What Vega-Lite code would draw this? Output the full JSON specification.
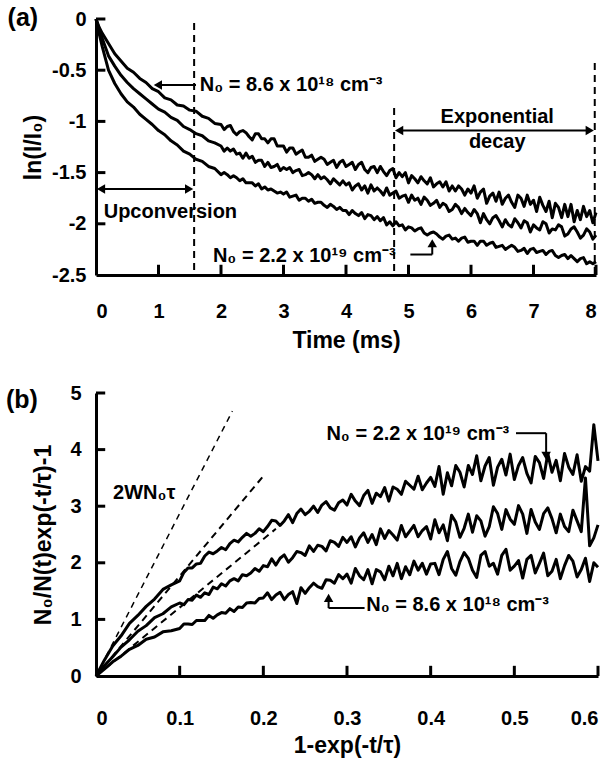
{
"$schema": "https://vega.github.io/schema/vega-lite/v6.json",
"background": "white",
"padding": {"left": 5, "top": 5, "right": 5, "bottom": 5},
"bounds": "flush",
"spacing": 118,
"config": {
  "view": {"stroke": null},
  "axis": {"grid": false, "domainColor": "black", "domainWidth": 3, "ticks": false,
    "labelFont": "Liberation Sans", "labelFontWeight": "bold", "labelFontSize": 20, "labelColor": "black",
    "titleFont": "Liberation Sans", "titleFontWeight": "bold", "titleFontSize": 23, "titleColor": "black"},
  "text": {"font": "Liberation Sans", "fontWeight": "bold", "fontSize": 20, "color": "black"}
},
"datasets": {
"ca": [
{"x":0,"t":0,"m":0,"b":0},
{"x":0.05,"t":-0.08,"m":-0.1,"b":-0.14},
{"x":0.1,"t":-0.14,"m":-0.19,"b":-0.27},
{"x":0.2,"t":-0.24,"m":-0.36,"b":-0.5},
{"x":0.3,"t":-0.34,"m":-0.46,"b":-0.63},
{"x":0.4,"t":-0.41,"m":-0.55,"b":-0.73},
{"x":0.5,"t":-0.48,"m":-0.62,"b":-0.81},
{"x":0.6,"t":-0.52,"m":-0.68,"b":-0.86},
{"x":0.7,"t":-0.58,"m":-0.73,"b":-0.93},
{"x":0.8,"t":-0.62,"m":-0.78,"b":-0.98},
{"x":0.9,"t":-0.68,"m":-0.83,"b":-1.03},
{"x":1.0,"t":-0.71,"m":-0.88,"b":-1.09},
{"x":1.1,"t":-0.77,"m":-0.91,"b":-1.13},
{"x":1.2,"t":-0.79,"m":-0.96,"b":-1.19},
{"x":1.3,"t":-0.84,"m":-0.99,"b":-1.23},
{"x":1.4,"t":-0.85,"m":-1.05,"b":-1.29},
{"x":1.5,"t":-0.89,"m":-1.08,"b":-1.32},
{"x":1.6,"t":-0.9,"m":-1.12,"b":-1.37},
{"x":1.7,"t":-0.95,"m":-1.14,"b":-1.39},
{"x":1.8,"t":-0.97,"m":-1.19,"b":-1.44},
{"x":1.9,"t":-1.02,"m":-1.21,"b":-1.46},
{"x":2.0,"t":-1.03,"m":-1.24,"b":-1.52},
{"x":2.05,"t":-1.08,"m":-1.29,"b":-1.5},
{"x":2.1,"t":-1.05,"m":-1.26,"b":-1.52},
{"x":2.15,"t":-1.04,"m":-1.29,"b":-1.55},
{"x":2.2,"t":-1.1,"m":-1.27,"b":-1.53},
{"x":2.25,"t":-1.13,"m":-1.32,"b":-1.55},
{"x":2.3,"t":-1.1,"m":-1.31,"b":-1.58},
{"x":2.35,"t":-1.09,"m":-1.36,"b":-1.56},
{"x":2.4,"t":-1.11,"m":-1.31,"b":-1.6},
{"x":2.45,"t":-1.15,"m":-1.36,"b":-1.6},
{"x":2.5,"t":-1.18,"m":-1.34,"b":-1.6},
{"x":2.55,"t":-1.12,"m":-1.4,"b":-1.63},
{"x":2.6,"t":-1.12,"m":-1.38,"b":-1.61},
{"x":2.65,"t":-1.17,"m":-1.38,"b":-1.66},
{"x":2.7,"t":-1.17,"m":-1.44,"b":-1.64},
{"x":2.75,"t":-1.21,"m":-1.4,"b":-1.67},
{"x":2.8,"t":-1.17,"m":-1.45,"b":-1.66},
{"x":2.85,"t":-1.17,"m":-1.44,"b":-1.68},
{"x":2.9,"t":-1.24,"m":-1.42,"b":-1.7},
{"x":2.95,"t":-1.24,"m":-1.48,"b":-1.69},
{"x":3.0,"t":-1.24,"m":-1.45,"b":-1.71},
{"x":3.05,"t":-1.3,"m":-1.47,"b":-1.69},
{"x":3.1,"t":-1.26,"m":-1.45,"b":-1.74},
{"x":3.15,"t":-1.26,"m":-1.5,"b":-1.73},
{"x":3.2,"t":-1.32,"m":-1.48,"b":-1.72},
{"x":3.25,"t":-1.3,"m":-1.47,"b":-1.77},
{"x":3.3,"t":-1.28,"m":-1.53,"b":-1.75},
{"x":3.35,"t":-1.35,"m":-1.52,"b":-1.75},
{"x":3.4,"t":-1.35,"m":-1.5,"b":-1.78},
{"x":3.45,"t":-1.33,"m":-1.52,"b":-1.76},
{"x":3.5,"t":-1.39,"m":-1.56,"b":-1.8},
{"x":3.55,"t":-1.37,"m":-1.52,"b":-1.79},
{"x":3.6,"t":-1.35,"m":-1.56,"b":-1.79},
{"x":3.65,"t":-1.37,"m":-1.54,"b":-1.82},
{"x":3.7,"t":-1.42,"m":-1.57,"b":-1.84},
{"x":3.75,"t":-1.4,"m":-1.61,"b":-1.81},
{"x":3.8,"t":-1.38,"m":-1.56,"b":-1.83},
{"x":3.85,"t":-1.45,"m":-1.59,"b":-1.86},
{"x":3.9,"t":-1.4,"m":-1.62,"b":-1.84},
{"x":3.95,"t":-1.38,"m":-1.58,"b":-1.87},
{"x":4.0,"t":-1.44,"m":-1.62,"b":-1.87},
{"x":4.05,"t":-1.42,"m":-1.6,"b":-1.91},
{"x":4.1,"t":-1.4,"m":-1.67,"b":-1.87},
{"x":4.15,"t":-1.47,"m":-1.63,"b":-1.9},
{"x":4.2,"t":-1.42,"m":-1.61,"b":-1.92},
{"x":4.25,"t":-1.4,"m":-1.67,"b":-1.89},
{"x":4.3,"t":-1.47,"m":-1.63,"b":-1.95},
{"x":4.35,"t":-1.5,"m":-1.7,"b":-1.91},
{"x":4.4,"t":-1.45,"m":-1.62,"b":-1.92},
{"x":4.45,"t":-1.44,"m":-1.68,"b":-1.96},
{"x":4.5,"t":-1.5,"m":-1.65,"b":-1.93},
{"x":4.55,"t":-1.44,"m":-1.68,"b":-1.97},
{"x":4.6,"t":-1.49,"m":-1.72,"b":-1.94},
{"x":4.65,"t":-1.53,"m":-1.65,"b":-2.01},
{"x":4.7,"t":-1.48,"m":-1.72,"b":-1.98},
{"x":4.75,"t":-1.46,"m":-1.7,"b":-2.02},
{"x":4.8,"t":-1.55,"m":-1.68,"b":-1.98},
{"x":4.85,"t":-1.5,"m":-1.75,"b":-2.02},
{"x":4.9,"t":-1.54,"m":-1.73,"b":-2.01},
{"x":4.95,"t":-1.5,"m":-1.72,"b":-2.06},
{"x":5.0,"t":-1.6,"m":-1.79,"b":-2.03},
{"x":5.05,"t":-1.53,"m":-1.72,"b":-2.04},
{"x":5.1,"t":-1.56,"m":-1.77,"b":-2.07},
{"x":5.15,"t":-1.6,"m":-1.75,"b":-2.05},
{"x":5.2,"t":-1.54,"m":-1.81,"b":-2.04},
{"x":5.25,"t":-1.58,"m":-1.74,"b":-2.09},
{"x":5.3,"t":-1.61,"m":-1.77,"b":-2.11},
{"x":5.35,"t":-1.55,"m":-1.82,"b":-2.09},
{"x":5.4,"t":-1.64,"m":-1.8,"b":-2.08},
{"x":5.45,"t":-1.61,"m":-1.77,"b":-2.1},
{"x":5.5,"t":-1.59,"m":-1.84,"b":-2.13},
{"x":5.55,"t":-1.64,"m":-1.8,"b":-2.15},
{"x":5.6,"t":-1.59,"m":-1.82,"b":-2.12},
{"x":5.65,"t":-1.68,"m":-1.88,"b":-2.11},
{"x":5.7,"t":-1.63,"m":-1.86,"b":-2.15},
{"x":5.75,"t":-1.68,"m":-1.81,"b":-2.14},
{"x":5.8,"t":-1.63,"m":-1.84,"b":-2.17},
{"x":5.85,"t":-1.66,"m":-1.9,"b":-2.14},
{"x":5.9,"t":-1.72,"m":-1.85,"b":-2.13},
{"x":5.95,"t":-1.66,"m":-1.89,"b":-2.18},
{"x":6.0,"t":-1.7,"m":-1.92,"b":-2.17},
{"x":6.05,"t":-1.63,"m":-1.86,"b":-2.17},
{"x":6.1,"t":-1.75,"m":-1.9,"b":-2.21},
{"x":6.15,"t":-1.69,"m":-1.99,"b":-2.17},
{"x":6.2,"t":-1.66,"m":-1.9,"b":-2.17},
{"x":6.25,"t":-1.8,"m":-1.96,"b":-2.21},
{"x":6.3,"t":-1.73,"m":-2.0,"b":-2.19},
{"x":6.35,"t":-1.7,"m":-1.94,"b":-2.18},
{"x":6.4,"t":-1.78,"m":-1.92,"b":-2.23},
{"x":6.45,"t":-1.69,"m":-1.97,"b":-2.22},
{"x":6.5,"t":-1.81,"m":-2.03,"b":-2.21},
{"x":6.55,"t":-1.75,"m":-1.96,"b":-2.25},
{"x":6.6,"t":-1.72,"m":-2.01,"b":-2.23},
{"x":6.65,"t":-1.79,"m":-2.03,"b":-2.21},
{"x":6.7,"t":-1.84,"m":-1.95,"b":-2.23},
{"x":6.75,"t":-1.72,"m":-1.99,"b":-2.27},
{"x":6.8,"t":-1.75,"m":-2.04,"b":-2.26},
{"x":6.85,"t":-1.83,"m":-1.97,"b":-2.24},
{"x":6.9,"t":-1.72,"m":-1.99,"b":-2.29},
{"x":6.95,"t":-1.81,"m":-2.08,"b":-2.25},
{"x":7.0,"t":-1.77,"m":-2.01,"b":-2.24},
{"x":7.05,"t":-1.88,"m":-2.04,"b":-2.28},
{"x":7.1,"t":-1.74,"m":-2.06,"b":-2.27},
{"x":7.15,"t":-1.82,"m":-1.98,"b":-2.26},
{"x":7.2,"t":-1.88,"m":-2.0,"b":-2.3},
{"x":7.25,"t":-1.78,"m":-2.09,"b":-2.27},
{"x":7.3,"t":-1.94,"m":-2.05,"b":-2.26},
{"x":7.35,"t":-1.8,"m":-2.06,"b":-2.31},
{"x":7.4,"t":-1.84,"m":-2.01,"b":-2.33},
{"x":7.45,"t":-1.94,"m":-2.03,"b":-2.31},
{"x":7.5,"t":-1.81,"m":-2.12,"b":-2.3},
{"x":7.55,"t":-1.93,"m":-2.1,"b":-2.34},
{"x":7.6,"t":-1.81,"m":-2.05,"b":-2.31},
{"x":7.65,"t":-1.98,"m":-2.03,"b":-2.34},
{"x":7.7,"t":-1.87,"m":-2.08,"b":-2.37},
{"x":7.75,"t":-1.96,"m":-2.14,"b":-2.34},
{"x":7.8,"t":-1.83,"m":-2.11,"b":-2.33},
{"x":7.85,"t":-1.93,"m":-2.05,"b":-2.39},
{"x":7.9,"t":-1.87,"m":-2.08,"b":-2.37},
{"x":7.95,"t":-1.99,"m":-2.15,"b":-2.39},
{"x":8.0,"t":-1.89,"m":-2.11,"b":-2.37}
],
"cb": [
{"x":0,"t":0,"m":0,"b":0},
{"x":0.01,"t":0.28,"m":0.18,"b":0.12},
{"x":0.02,"t":0.53,"m":0.34,"b":0.25},
{"x":0.03,"t":0.71,"m":0.51,"b":0.35},
{"x":0.04,"t":0.93,"m":0.64,"b":0.47},
{"x":0.05,"t":1.07,"m":0.79,"b":0.54},
{"x":0.06,"t":1.23,"m":0.89,"b":0.65},
{"x":0.07,"t":1.36,"m":1.03,"b":0.69},
{"x":0.08,"t":1.53,"m":1.1,"b":0.78},
{"x":0.09,"t":1.61,"m":1.22,"b":0.8},
{"x":0.1,"t":1.68,"m":1.29,"b":0.84},
{"x":0.105,"t":1.83,"m":1.26,"b":0.92},
{"x":0.11,"t":1.91,"m":1.35,"b":0.92},
{"x":0.115,"t":1.91,"m":1.34,"b":0.91},
{"x":0.12,"t":1.98,"m":1.43,"b":0.98},
{"x":0.125,"t":1.99,"m":1.39,"b":0.98},
{"x":0.13,"t":2.12,"m":1.47,"b":0.98},
{"x":0.135,"t":2.19,"m":1.44,"b":1.07},
{"x":0.14,"t":2.16,"m":1.57,"b":1.02},
{"x":0.145,"t":2.21,"m":1.54,"b":1.08},
{"x":0.15,"t":2.27,"m":1.63,"b":1.12},
{"x":0.155,"t":2.23,"m":1.59,"b":1.11},
{"x":0.16,"t":2.34,"m":1.68,"b":1.19},
{"x":0.165,"t":2.4,"m":1.72,"b":1.14},
{"x":0.17,"t":2.37,"m":1.68,"b":1.22},
{"x":0.175,"t":2.45,"m":1.79,"b":1.21},
{"x":0.18,"t":2.52,"m":1.77,"b":1.29},
{"x":0.185,"t":2.47,"m":1.82,"b":1.3},
{"x":0.19,"t":2.52,"m":1.9,"b":1.29},
{"x":0.195,"t":2.6,"m":1.85,"b":1.37},
{"x":0.2,"t":2.55,"m":1.95,"b":1.38},
{"x":0.205,"t":2.64,"m":1.93,"b":1.47},
{"x":0.21,"t":2.75,"m":2.07,"b":1.35},
{"x":0.215,"t":2.74,"m":1.96,"b":1.43},
{"x":0.22,"t":2.66,"m":2.08,"b":1.48},
{"x":0.225,"t":2.74,"m":2.14,"b":1.35},
{"x":0.23,"t":2.85,"m":2.01,"b":1.44},
{"x":0.235,"t":2.71,"m":2.09,"b":1.49},
{"x":0.24,"t":2.87,"m":2.2,"b":1.28},
{"x":0.245,"t":2.95,"m":2.18,"b":1.56},
{"x":0.25,"t":2.85,"m":2.13,"b":1.46},
{"x":0.255,"t":2.91,"m":2.3,"b":1.56},
{"x":0.26,"t":3.0,"m":2.2,"b":1.64},
{"x":0.265,"t":2.89,"m":2.31,"b":1.58},
{"x":0.27,"t":3.02,"m":2.29,"b":1.55},
{"x":0.275,"t":3.08,"m":2.21,"b":1.7},
{"x":0.28,"t":2.97,"m":2.39,"b":1.69},
{"x":0.285,"t":2.93,"m":2.36,"b":1.64},
{"x":0.29,"t":3.06,"m":2.29,"b":1.79},
{"x":0.295,"t":3.11,"m":2.45,"b":1.72},
{"x":0.3,"t":3.02,"m":2.36,"b":1.8},
{"x":0.305,"t":3.21,"m":2.46,"b":1.64},
{"x":0.31,"t":3.09,"m":2.28,"b":1.9},
{"x":0.315,"t":3.01,"m":2.44,"b":1.77},
{"x":0.32,"t":3.19,"m":2.53,"b":1.7},
{"x":0.325,"t":3.28,"m":2.36,"b":1.88},
{"x":0.33,"t":3.05,"m":2.5,"b":1.63},
{"x":0.335,"t":3.23,"m":2.32,"b":1.88},
{"x":0.34,"t":3.17,"m":2.6,"b":1.84},
{"x":0.345,"t":3.33,"m":2.43,"b":1.7},
{"x":0.35,"t":3.09,"m":2.57,"b":1.94},
{"x":0.355,"t":3.34,"m":2.49,"b":1.77},
{"x":0.36,"t":3.3,"m":2.4,"b":1.99},
{"x":0.365,"t":3.21,"m":2.66,"b":1.72},
{"x":0.37,"t":3.44,"m":2.46,"b":1.93},
{"x":0.375,"t":3.37,"m":2.56,"b":1.79},
{"x":0.38,"t":3.3,"m":2.66,"b":2.03},
{"x":0.385,"t":3.53,"m":2.46,"b":1.87},
{"x":0.39,"t":3.29,"m":2.57,"b":1.99},
{"x":0.395,"t":3.41,"m":2.64,"b":1.8},
{"x":0.4,"t":3.51,"m":2.42,"b":1.98},
{"x":0.405,"t":3.35,"m":2.76,"b":1.99},
{"x":0.41,"t":3.7,"m":2.53,"b":1.79},
{"x":0.415,"t":3.21,"m":2.67,"b":2.06},
{"x":0.42,"t":3.59,"m":2.39,"b":2.2},
{"x":0.425,"t":3.36,"m":2.84,"b":1.9},
{"x":0.43,"t":3.72,"m":2.72,"b":1.78},
{"x":0.435,"t":3.6,"m":2.45,"b":2.02},
{"x":0.44,"t":3.34,"m":2.61,"b":2.18},
{"x":0.445,"t":3.72,"m":2.86,"b":2.08},
{"x":0.45,"t":3.56,"m":2.54,"b":1.87},
{"x":0.455,"t":3.89,"m":2.83,"b":1.74},
{"x":0.46,"t":3.45,"m":2.74,"b":2.13},
{"x":0.465,"t":3.71,"m":2.47,"b":2.2},
{"x":0.47,"t":3.86,"m":2.64,"b":1.94},
{"x":0.475,"t":3.37,"m":2.99,"b":1.99},
{"x":0.48,"t":3.69,"m":2.87,"b":1.8},
{"x":0.485,"t":3.83,"m":2.59,"b":2.13},
{"x":0.49,"t":3.55,"m":2.94,"b":2.24},
{"x":0.495,"t":3.92,"m":2.77,"b":1.87},
{"x":0.5,"t":3.47,"m":2.68,"b":1.94},
{"x":0.505,"t":3.72,"m":3.01,"b":2.04},
{"x":0.51,"t":3.86,"m":2.86,"b":1.73},
{"x":0.515,"t":3.58,"m":2.52,"b":2.06},
{"x":0.52,"t":3.41,"m":2.94,"b":2.13},
{"x":0.525,"t":3.88,"m":2.72,"b":1.82},
{"x":0.53,"t":3.77,"m":2.59,"b":1.99},
{"x":0.535,"t":3.49,"m":2.87,"b":2.17},
{"x":0.54,"t":3.93,"m":2.97,"b":1.77},
{"x":0.545,"t":3.6,"m":2.78,"b":1.85},
{"x":0.55,"t":3.81,"m":2.53,"b":2.06},
{"x":0.555,"t":3.45,"m":2.86,"b":1.72},
{"x":0.56,"t":3.93,"m":2.64,"b":1.95},
{"x":0.565,"t":3.69,"m":2.55,"b":2.13},
{"x":0.57,"t":3.56,"m":2.93,"b":2.03},
{"x":0.575,"t":3.91,"m":2.74,"b":1.75},
{"x":0.58,"t":3.44,"m":2.55,"b":1.88},
{"x":0.585,"t":3.7,"m":3.5,"b":2.08},
{"x":0.59,"t":3.62,"m":2.3,"b":1.67},
{"x":0.595,"t":4.44,"m":2.44,"b":2.0},
{"x":0.6,"t":3.8,"m":2.67,"b":1.92}
]
},
"vconcat": [
{
  "width": 500, "height": 256,
  "encoding": {
    "x": {"field": "x", "type": "quantitative", "scale": {"domain": [0, 8], "nice": false, "zero": false},
      "axis": {"title": "Time (ms)", "values": [0,1,2,3,4,5,6,7,8], "labelPadding": 26, "titlePadding": 8, "labelExpr": "datum.value + ''"}},
    "y": {"field": "y", "type": "quantitative", "scale": {"domain": [-2.5, 0], "nice": false, "zero": false},
      "axis": {"title": "ln(I/I₀)", "values": [0,-0.5,-1,-1.5,-2,-2.5], "labelPadding": 10, "titlePadding": 6, "labelExpr": "datum.value + ''"}}
  },
  "layer": [
    {"data": {"name": "ca"}, "transform": [{"fold": ["t","m","b"], "as": ["series","y"]}],
     "mark": {"type": "line", "color": "black", "strokeWidth": 3, "strokeJoin": "round"},
     "encoding": {"detail": {"field": "series"}}},
    {"data": {"values": [
        {"x":1,"y":-2.5,"x2":1,"y2":-2.4},{"x":2,"y":-2.5,"x2":2,"y2":-2.4},{"x":3,"y":-2.5,"x2":3,"y2":-2.4},{"x":4,"y":-2.5,"x2":4,"y2":-2.4},
        {"x":5,"y":-2.5,"x2":5,"y2":-2.4},{"x":6,"y":-2.5,"x2":6,"y2":-2.4},{"x":7,"y":-2.5,"x2":7,"y2":-2.4},{"x":8,"y":-2.5,"x2":8,"y2":-2.4},
        {"x":0,"y":0,"x2":0.15,"y2":0},{"x":0,"y":-0.5,"x2":0.15,"y2":-0.5},{"x":0,"y":-1,"x2":0.15,"y2":-1},{"x":0,"y":-1.5,"x2":0.15,"y2":-1.5},{"x":0,"y":-2,"x2":0.15,"y2":-2}]},
     "mark": {"type": "rule", "color": "black", "strokeWidth": 3},
     "encoding": {"x2": {"field": "x2"}, "y2": {"field": "y2"}}},
    {"data": {"values": [{"x":1.57,"y":-0.04,"y2":-2.5},{"x":4.77,"y":-0.87,"y2":-2.5},{"x":7.98,"y":-0.43,"y2":-2.5}]},
     "mark": {"type": "rule", "color": "black", "strokeWidth": 2, "strokeDash": [7,5]},
     "encoding": {"y2": {"field": "y2"}}},
    {"data": {"values": [
        {"x":0.06,"y":-1.66,"x2":1.5,"y2":-1.66},
        {"x":4.85,"y":-1.09,"x2":7.9,"y2":-1.09},
        {"x":1.0,"y":-0.645,"x2":1.6,"y2":-0.645},
        {"x":5.03,"y":-2.3,"x2":5.38,"y2":-2.3},
        {"x":5.38,"y":-2.3,"x2":5.38,"y2":-2.2}]},
     "mark": {"type": "rule", "color": "black", "strokeWidth": 2},
     "encoding": {"x2": {"field": "x2"}, "y2": {"field": "y2"}}},
    {"data": {"values": [
        {"x":0.08,"y":-1.66,"dir":"left"},{"x":1.49,"y":-1.66,"dir":"right"},
        {"x":4.85,"y":-1.09,"dir":"left"},{"x":7.9,"y":-1.09,"dir":"right"},
        {"x":0.99,"y":-0.645,"dir":"left"},{"x":5.38,"y":-2.19,"dir":"up"}]},
     "mark": {"type": "point", "filled": true, "color": "black", "size": 90, "opacity": 1},
     "encoding": {"shape": {"field": "dir", "scale": {"domain": ["left","right","up","down"], "range": ["triangle-left","triangle-right","triangle-up","triangle-down"]}, "legend": null}}},
    {"data": {"values": [
        {"x":1.66,"y":-0.645,"label":"N₀ = 8.6 x 10¹⁸ cm⁻³"},
        {"x":1.87,"y":-2.31,"label":"N₀ = 2.2 x 10¹⁹ cm⁻³"}]},
     "mark": {"type": "text", "align": "left", "baseline": "middle"},
     "encoding": {"text": {"field": "label"}}},
    {"data": {"values": [
        {"x":1.19,"y":-1.885,"label":"Upconversion"},
        {"x":6.42,"y":-0.957,"label":"Exponential"},
        {"x":6.42,"y":-1.2,"label":"decay"}]},
     "mark": {"type": "text", "align": "center", "baseline": "middle"},
     "encoding": {"text": {"field": "label"}}},
    {"data": {"values": [{"x":-1.17,"y":0.01,"label":"(a)"}]},
     "mark": {"type": "text", "align": "center", "baseline": "middle", "fontSize": 25},
     "encoding": {"text": {"field": "label"}}}
  ]
},
{
  "width": 502, "height": 283,
  "encoding": {
    "x": {"field": "x", "type": "quantitative", "scale": {"domain": [0, 0.6], "nice": false, "zero": false},
      "axis": {"title": "1-exp(-t/τ)", "values": [0,0.1,0.2,0.3,0.4,0.5,0.6], "labelPadding": 32, "titlePadding": 6, "labelExpr": "datum.value + ''"}},
    "y": {"field": "y", "type": "quantitative", "scale": {"domain": [0, 5], "nice": false, "zero": false},
      "axis": {"title": "N₀/N(t)exp(-t/τ)-1", "values": [0,1,2,3,4,5], "labelPadding": 15, "titlePadding": 14, "labelExpr": "datum.value + ''"}}
  },
  "layer": [
    {"data": {"name": "cb"}, "transform": [{"fold": ["t","m","b"], "as": ["series","y"]}],
     "mark": {"type": "line", "color": "black", "strokeWidth": 3, "strokeJoin": "round"},
     "encoding": {"detail": {"field": "series"}}},
    {"data": {"values": [
        {"x":0.1,"y":0,"x2":0.1,"y2":0.18},{"x":0.2,"y":0,"x2":0.2,"y2":0.18},{"x":0.3,"y":0,"x2":0.3,"y2":0.18},
        {"x":0.4,"y":0,"x2":0.4,"y2":0.18},{"x":0.5,"y":0,"x2":0.5,"y2":0.18},{"x":0.6,"y":0,"x2":0.6,"y2":0.18},
        {"x":0,"y":1,"x2":0.011,"y2":1},{"x":0,"y":2,"x2":0.011,"y2":2},{"x":0,"y":3,"x2":0.011,"y2":3},
        {"x":0,"y":4,"x2":0.011,"y2":4},{"x":0,"y":5,"x2":0.011,"y2":5}]},
     "mark": {"type": "rule", "color": "black", "strokeWidth": 3},
     "encoding": {"x2": {"field": "x2"}, "y2": {"field": "y2"}}},
    {"data": {"values": [{"x":0,"y":0,"x2":0.163,"y2":4.68}]},
     "mark": {"type": "rule", "color": "black", "strokeWidth": 1.5, "strokeDash": [6,5]},
     "encoding": {"x2": {"field": "x2"}, "y2": {"field": "y2"}}},
    {"data": {"values": [{"x":0,"y":0,"x2":0.201,"y2":3.55},{"x":0,"y":0,"x2":0.215,"y2":2.6}]},
     "mark": {"type": "rule", "color": "black", "strokeWidth": 2, "strokeDash": [7,5]},
     "encoding": {"x2": {"field": "x2"}, "y2": {"field": "y2"}}},
    {"data": {"values": [
        {"x":0.502,"y":4.29,"x2":0.538,"y2":4.29},
        {"x":0.538,"y":4.29,"x2":0.538,"y2":3.92},
        {"x":0.278,"y":1.2,"x2":0.321,"y2":1.2},
        {"x":0.278,"y":1.2,"x2":0.278,"y2":1.36}]},
     "mark": {"type": "rule", "color": "black", "strokeWidth": 2},
     "encoding": {"x2": {"field": "x2"}, "y2": {"field": "y2"}}},
    {"data": {"values": [{"x":0.538,"y":3.89,"dir":"down"},{"x":0.278,"y":1.38,"dir":"up"}]},
     "mark": {"type": "point", "filled": true, "color": "black", "size": 90, "opacity": 1},
     "encoding": {"shape": {"field": "dir", "scale": {"domain": ["left","right","up","down"], "range": ["triangle-left","triangle-right","triangle-up","triangle-down"]}, "legend": null}}},
    {"data": {"values": [
        {"x":0.2754,"y":4.28,"label":"N₀ = 2.2 x 10¹⁹ cm⁻³"},
        {"x":0.323,"y":1.25,"label":"N₀ = 8.6 x 10¹⁸ cm⁻³"},
        {"x":0.0204,"y":3.23,"label":"2WN₀τ"}]},
     "mark": {"type": "text", "align": "left", "baseline": "middle"},
     "encoding": {"text": {"field": "label"}}},
    {"data": {"values": [{"x":-0.0886,"y":4.88,"label":"(b)"}]},
     "mark": {"type": "text", "align": "center", "baseline": "middle", "fontSize": 25},
     "encoding": {"text": {"field": "label"}}}
  ]
}
]
}
